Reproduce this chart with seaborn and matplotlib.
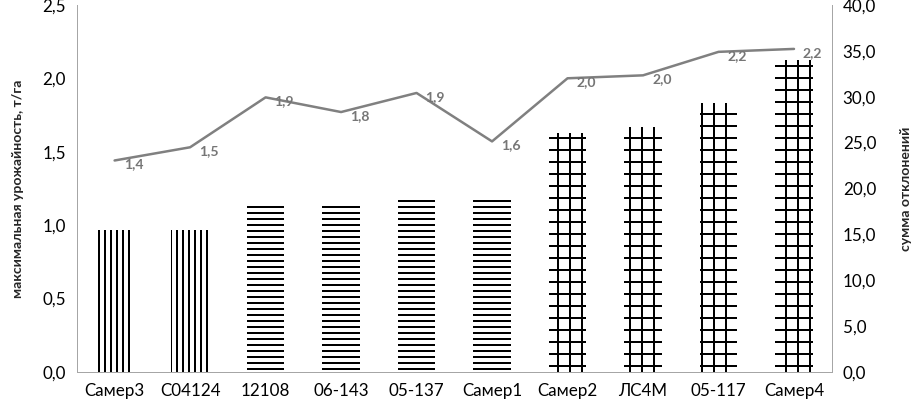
import numpy as np
import pandas as pd
import matplotlib
matplotlib.use("Agg")
import matplotlib.pyplot as plt
import seaborn as sns

sns.set_theme(style="white")
plt.rcParams['font.family'] = ['Lato', 'DejaVu Sans']
plt.rcParams['hatch.linewidth'] = 2.0

# data
sorts = ['Самер3', 'С04124', '12108', '06-143', '05-137', 'Самер1',
         'Самер2', 'ЛС4М', '05-117', 'Самер4']
sum_dev = [15.5, 15.5, 18.1, 18.1, 18.7, 18.8, 26.0, 26.7, 29.3, 34.0]
max_yield = [1.44, 1.53, 1.87, 1.77, 1.90, 1.57, 2.00, 2.02, 2.18, 2.20]
yield_labels = ['1,4', '1,5', '1,9', '1,8', '1,9', '1,6', '2,0', '2,0', '2,2', '2,2']
hatches = ['||', '||', '--', '--', '--', '--', '+', '+', '+', '+']

df = pd.DataFrame({'sort': sorts, 'sum_dev': sum_dev, 'max_yield': max_yield})

fig = plt.figure(figsize=(915 / 72, 406 / 72), dpi=72)
ax = fig.add_axes([0.084, 0.084, 0.825, 0.904])
ax2 = ax.twinx()

# bars: sum of deviations (right scale)
sns.barplot(data=df, x='sort', y='sum_dev', ax=ax, color='white', width=0.5,
            edgecolor='black', linewidth=0, saturation=1)
for p, h in zip(ax.patches, hatches):
    p.set_hatch(h)
    p.set_facecolor('white')
    p.set_edgecolor('black')
    p.set_linewidth(0)

ax.set_ylim(0, 40)
ax.set_yticks(np.arange(0, 41, 5))
ax.set_yticklabels([f'{v:.1f}'.replace('.', ',') for v in np.arange(0, 41, 5)])
ax.set_xlabel('')
ax.set_xlim(-0.5, len(sorts) - 0.5)

# line: maximal yield (left scale)
sns.pointplot(data=df, x='sort', y='max_yield', ax=ax2, color='#808080',
              markers='', linewidth=2.5, errorbar=None)
for i, (v, lab) in enumerate(zip(max_yield, yield_labels)):
    ax2.annotate(lab, (i, v), xytext=(9, -4), textcoords='offset points',
                 ha='left', va='center', fontsize=14, fontweight='bold', color='#767676')
ax2.set_ylim(0, 2.5)
ax2.set_yticks(np.arange(0, 2.51, 0.5))
ax2.set_yticklabels([f'{v:.1f}'.replace('.', ',') for v in np.arange(0, 2.51, 0.5)])
ax2.set_xlim(-0.5, len(sorts) - 0.5)
ax2.set_xlabel('')

# swap sides: bars scale on the right, yield scale on the left
ax.yaxis.tick_right()
ax.yaxis.set_label_position('right')
ax2.yaxis.tick_left()
ax2.yaxis.set_label_position('left')
ax.set_ylabel('сумма отклонений', fontsize=14, fontweight='bold', labelpad=24)
ax2.set_ylabel('максимальная урожайность, т/га', fontsize=14, fontweight='bold', labelpad=18)

for a in (ax, ax2):
    a.spines['top'].set_visible(False)
    for s in ('left', 'right', 'bottom'):
        a.spines[s].set_color('#a6a6a6')
        a.spines[s].set_linewidth(1)
    a.tick_params(axis='both', labelsize=17, length=0, pad=11, colors='black')
    a.grid(False)

ax.set_xticks(range(len(sorts)))
ax.set_xticklabels(sorts, fontsize=17)

plt.savefig('out.png', dpi=72)
plt.close()
